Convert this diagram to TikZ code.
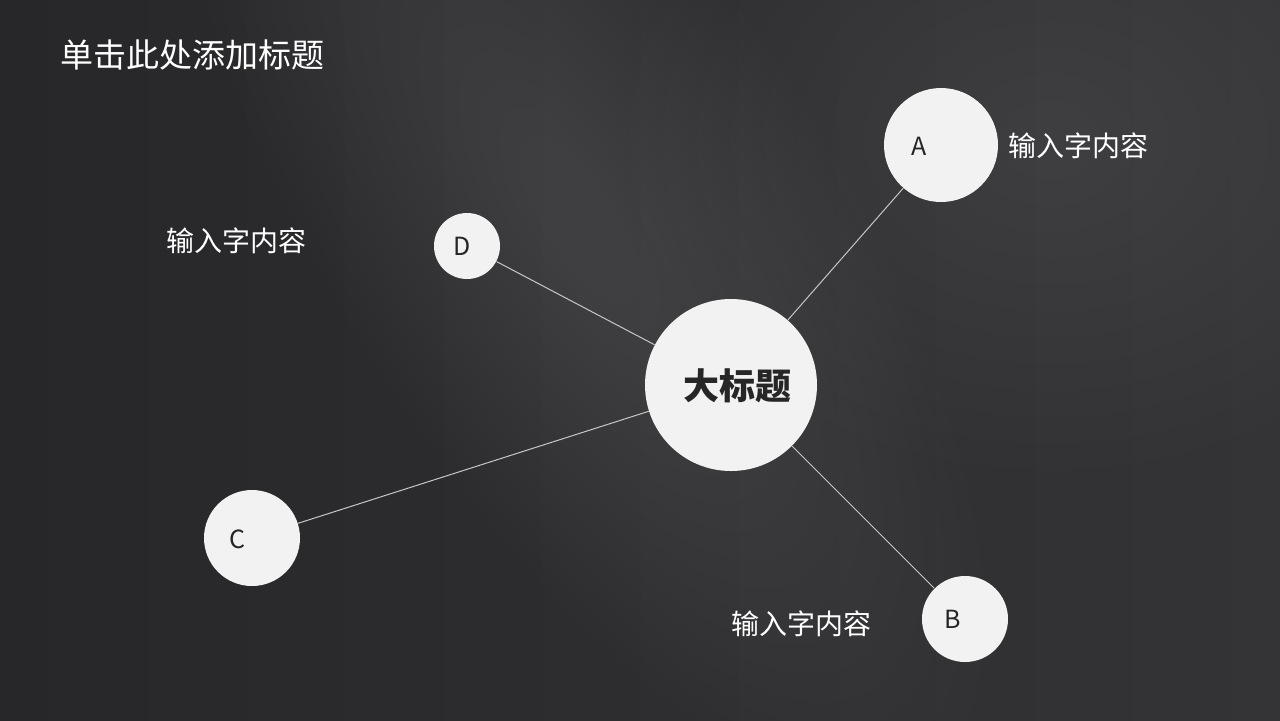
\documentclass[tikz,border=0pt]{standalone}
\usepackage{fontspec}
\newfontfamily\cjk{Noto Sans CJK SC}
\definecolor{bgdark}{HTML}{272628}
\definecolor{bgmid}{HTML}{343336}
\definecolor{circfill}{HTML}{F2F2F2}
\definecolor{inktext}{HTML}{262626}
\definecolor{linkcol}{HTML}{C8C8C8}
\tikzset{
  bubble/.style={circle, fill=circfill, draw=none, inner sep=0pt},
  letter/.style={font=\cjk\fontsize{12.5}{14}\selectfont, text=inktext},
  note/.style={font=\cjk\fontsize{14}{16}\selectfont, text=white, inner sep=0pt},
  link/.style={draw=linkcol, line width=0.5pt},
  glowlayer/.style={fill=white, opacity=#1},
}
\begin{document}
\begin{tikzpicture}[x=0.5pt,y=-0.5pt]
\useasboundingbox (0,0) rectangle (1280,720);
% background
\shade[left color=bgdark, right color=bgmid] (0,0) rectangle (1280,720);
\begin{scope}
\clip (0,0) rectangle (1280,720);
\foreach \s in {1.00,0.95,...,0.10} {
  \fill[glowlayer=0.009, rotate around={-58:(580,220)}] (580,220) ellipse ({650*\s} and {250*\s});
}
\foreach \s in {1.00,0.92,...,0.10} {
  \fill[glowlayer=0.006] (1050,140) ellipse ({420*\s} and {330*\s});
}
\end{scope}
% title
\node[anchor=west, inner sep=0pt, font=\cjk\fontsize{16.5}{18}\selectfont, text=white] (title) at (60,55) {单击此处添加标题};
% circles
\node[bubble, minimum size=86pt] (hub) at (731,385) {};
\node[bubble, minimum size=57pt] (a) at (941,145) {};
\node[bubble, minimum size=48pt] (c) at (252,538) {};
\node[bubble, minimum size=43pt] (b) at (965,619) {};
\node[bubble, minimum size=33pt] (d) at (467,246) {};
% links
\draw[link] (hub) -- (a);
\draw[link] (hub) -- (b);
\draw[link] (hub) -- (c);
\draw[link] (hub) -- (d);
% labels inside
\node[font=\cjk\bfseries\fontsize{18}{20}\selectfont, text=inktext] (hubt) at (737,386) {大标题};
\node[letter] (at) at (919,146) {A};
\node[letter] (bt) at (953,619) {B};
\node[letter] (ct) at (237,539) {C};
\node[letter] (dt) at (462,246) {D};
% notes
\node[note, anchor=west] (na) at (1008,146) {输入字内容};
\node[note, anchor=west] (nd) at (166,241) {输入字内容};
\node[note, anchor=west] (nb) at (731,624) {输入字内容};
\end{tikzpicture}
\end{document}
